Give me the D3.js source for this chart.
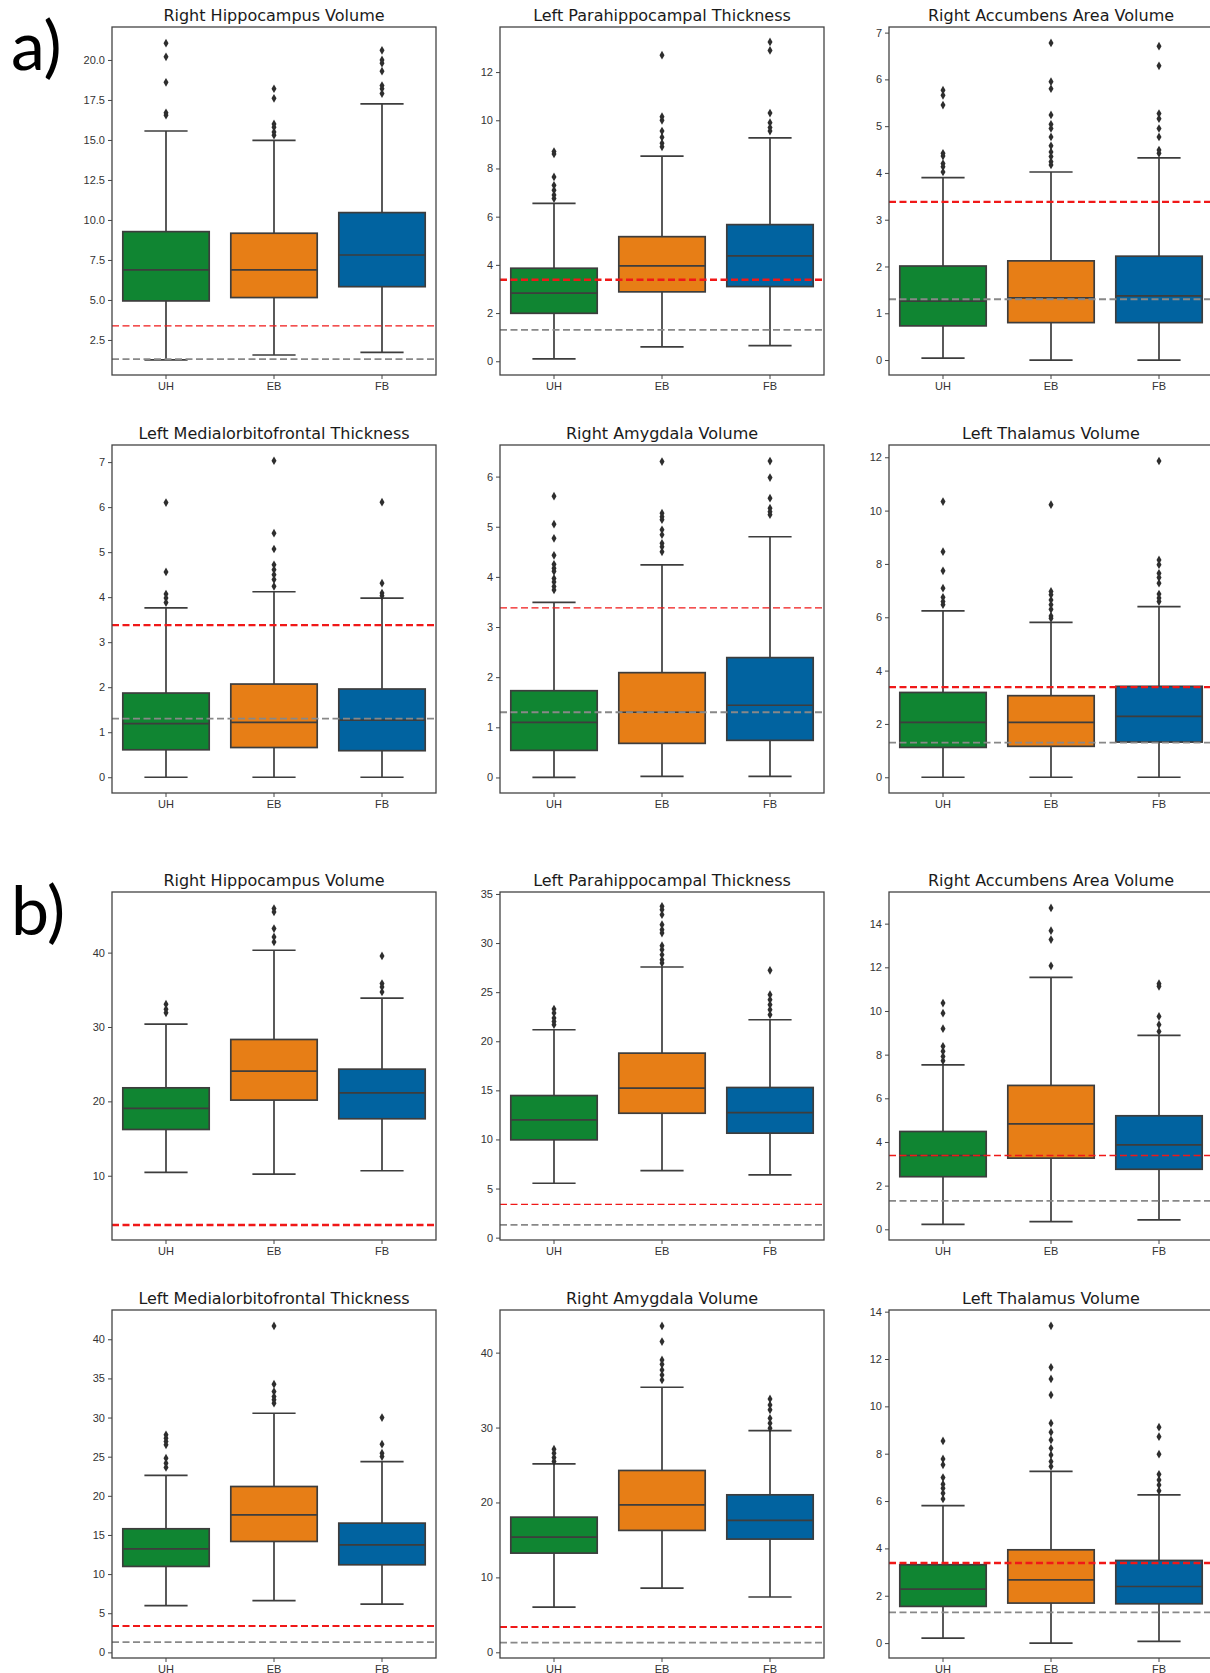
<!DOCTYPE html>
<html>
<head>
<meta charset="utf-8">
<script src="https://cdn.jsdelivr.net/npm/d3@7"></script>
<style>
  body { margin: 0; background: #fff; }
  svg { display: block; }
</style>
</head>
<body>
<div id="chart"></div>
<script>
const groups = ["UH", "EB", "FB"];
const titles = [
  "Right Hippocampus Volume",
  "Left Parahippocampal Thickness",
  "Right Accumbens Area Volume",
  "Left Medialorbitofrontal Thickness",
  "Right Amygdala Volume",
  "Left Thalamus Volume"
];
const sectionLabels = ["a)", "b)"];
const redLineValue = 3.38;
const grayLineValue = 1.3;

// box stats per group: [lower whisker, q1, median, q3, upper whisker]
// --- section a ---
const aHippoBoxes = [[1.25, 4.94, 6.88, 9.27, 15.56], [1.56, 5.15, 6.88, 9.17, 14.98], [1.73, 5.83, 7.81, 10.46, 17.25]];
const aHippoOut = [[21.05, 20.2, 18.6, 16.7, 16.55], [18.2, 17.6, 16.0, 15.8, 15.5, 15.3], [20.6, 20.0, 19.8, 19.3, 18.4, 18.2, 17.9]];
const aParaBoxes = [[0.1, 1.99, 2.83, 3.86, 6.55], [0.6, 2.88, 3.96, 5.17, 8.51], [0.65, 3.1, 4.37, 5.67, 9.27]];
const aParaOut = [[8.7, 8.6, 7.65, 7.3, 7.1, 6.9, 6.75], [12.7, 10.15, 10.0, 9.55, 9.3, 9.05, 8.9], [13.25, 12.9, 10.3, 9.9, 9.7, 9.55]];
const aAccBoxes = [[0.04, 0.73, 1.26, 2.01, 3.9], [0, 0.8, 1.33, 2.12, 4.02], [0, 0.8, 1.37, 2.22, 4.32]];
const aAccOut = [[5.77, 5.66, 5.45, 4.42, 4.36, 4.2, 4.13, 4.02], [6.78, 5.95, 5.8, 5.24, 5.04, 4.95, 4.77, 4.58, 4.45, 4.35, 4.24, 4.17], [6.71, 6.29, 5.27, 5.16, 4.95, 4.77, 4.49, 4.42]];
const aMofBoxes = [[0, 0.61, 1.19, 1.87, 3.76], [0, 0.66, 1.22, 2.07, 4.12], [0, 0.59, 1.27, 1.96, 3.98]];
const aMofOut = [[6.1, 4.56, 4.07, 3.98, 3.88], [7.03, 5.42, 5.07, 4.72, 4.61, 4.5, 4.39, 4.24], [6.11, 4.31, 4.09, 4.03]];
const aAmyBoxes = [[0, 0.54, 1.1, 1.73, 3.49], [0.02, 0.68, 1.3, 2.09, 4.24], [0.02, 0.74, 1.44, 2.39, 4.8]];
const aAmyOut = [[5.61, 5.05, 4.77, 4.43, 4.25, 4.17, 4.11, 3.97, 3.9, 3.81, 3.74], [6.3, 5.27, 5.2, 5.14, 4.94, 4.84, 4.67, 4.6, 4.5], [6.31, 5.98, 5.57, 5.37, 5.3, 5.24]];
const aThalBoxes = [[0, 1.12, 2.06, 3.18, 6.24], [0, 1.16, 2.06, 3.06, 5.81], [0, 1.32, 2.28, 3.41, 6.4]];
const aThalOut = [[10.34, 8.46, 7.74, 7.09, 6.75, 6.59, 6.47], [10.22, 6.97, 6.84, 6.65, 6.47, 6.3, 6.05, 5.96], [11.86, 8.15, 7.97, 7.65, 7.49, 7.28, 6.87, 6.72, 6.59]];

// --- section b ---
const bHippoBoxes = [[10.45, 16.22, 19.05, 21.82, 30.38], [10.22, 20.17, 24.06, 28.32, 40.32], [10.67, 17.66, 21.15, 24.33, 33.87]];
const bHippoOut = [[33.06, 32.39, 31.9], [45.92, 45.47, 43.23, 42.11, 41.44], [39.56, 35.84, 35.39, 34.72]];
const bParaBoxes = [[5.54, 9.96, 12.0, 14.47, 21.17], [6.83, 12.67, 15.22, 18.79, 27.56], [6.39, 10.64, 12.74, 15.29, 22.19]];
const bParaOut = [[23.28, 22.87, 22.36, 22.02, 21.68], [33.74, 33.4, 32.89, 31.87, 31.36, 31.02, 29.73, 29.32, 28.81, 28.3, 27.96], [27.22, 24.74, 24.23, 23.72, 23.21, 22.7]];
const bAccBoxes = [[0.23, 2.41, 3.38, 4.48, 7.53], [0.35, 3.26, 4.83, 6.59, 11.54], [0.43, 2.75, 3.87, 5.2, 8.88]];
const bAccOut = [[10.36, 9.9, 9.19, 8.38, 8.15, 7.92, 7.72], [14.72, 13.68, 13.27, 12.07], [11.25, 11.13, 9.75, 9.37, 9.06]];
const bMofBoxes = [[5.96, 10.98, 13.23, 15.79, 22.6], [6.6, 14.17, 17.57, 21.19, 30.55], [6.17, 11.19, 13.74, 16.51, 24.38]];
const bMofOut = [[27.79, 27.36, 26.94, 26.51, 24.81, 24.17, 23.62], [41.7, 34.26, 33.32, 32.68, 32.26, 31.83], [30.0, 26.6, 25.45, 25.02]];
const bAmyBoxes = [[6.04, 13.24, 15.38, 18.04, 25.16], [8.58, 16.27, 19.69, 24.27, 35.38], [7.38, 15.11, 17.6, 21.02, 29.6]];
const bAmyOut = [[27.11, 26.58, 26.0, 25.47], [43.56, 41.47, 39.02, 38.44, 37.69, 37.02, 36.36], [33.82, 33.02, 32.36, 31.24, 30.58, 29.91]];
const bThalBoxes = [[0.21, 1.55, 2.28, 3.31, 5.81], [0, 1.69, 2.67, 3.94, 7.25], [0.07, 1.66, 2.39, 3.49, 6.26]];
const bThalOut = [[8.54, 7.78, 7.53, 6.99, 6.71, 6.54, 6.33, 6.09], [13.4, 11.65, 11.16, 10.48, 9.29, 8.91, 8.58, 8.23, 7.95, 7.67, 7.46], [9.12, 8.72, 7.98, 7.13, 6.89, 6.68, 6.43]];

// y-axis ranges and tick steps
const yDomainsA = [[0.31, 22.06], [-0.57, 13.87], [-0.32, 7.12], [-0.35, 7.38], [-0.31, 6.63], [-0.59, 12.46]];
const yDomainsB = [[1.36, 48.15], [-0.24, 35.2], [-0.49, 15.45], [-0.72, 43.74], [-0.76, 45.69], [-0.63, 14.07]];
const yTickStepsA = [2.5, 2, 1, 1, 1, 2];
const yTickStepsB = [10, 5, 2, 5, 10, 2];

// --- layout / style ---
const W = 1210, H = 1673;
const colX = [112, 500, 889];
const rowY = [27, 445, 892, 1310];
const panelW = 324, panelH = 348;
const colors = ["#108532", "#e77e16", "#0163a0"];
const lineColor = "#3d3d3d";
const redWidths = [1.3, 2.4, 2.2, 2.4, 1.3, 2.1, 2.4, 1.3, 1.3, 2.0, 2.0, 2.4];

const boxesA = [aHippoBoxes, aParaBoxes, aAccBoxes, aMofBoxes, aAmyBoxes, aThalBoxes];
const outA = [aHippoOut, aParaOut, aAccOut, aMofOut, aAmyOut, aThalOut];
const boxesB = [bHippoBoxes, bParaBoxes, bAccBoxes, bMofBoxes, bAmyBoxes, bThalBoxes];
const outB = [bHippoOut, bParaOut, bAccOut, bMofOut, bAmyOut, bThalOut];

const panels = [];
[[boxesA, outA, yDomainsA, yTickStepsA], [boxesB, outB, yDomainsB, yTickStepsB]].forEach(([bx, ot, dom, st], s) => {
  for (let i = 0; i < 6; i++) {
    panels.push({
      title: titles[i], boxes: bx[i], fliers: ot[i], domain: dom[i], step: st[i],
      col: i % 3, row: s * 2 + Math.floor(i / 3)
    });
  }
});

const svg = d3.select("#chart").append("svg")
  .attr("width", W).attr("height", H)
  .style("font-family", "'DejaVu Sans', sans-serif");

svg.append("rect").attr("width", W).attr("height", H).attr("fill", "#fff");

// section labels
sectionLabels.forEach((lab, s) => {
  svg.append("text")
    .attr("x", 11)
    .attr("y", rowY[s * 2] + 43)
    .style("font-family", "Lato, 'Open Sans', sans-serif")
    .style("font-size", "68px")
    .attr("fill", "#000")
    .text(lab);
});

panels.forEach((p, idx) => {
  const g = svg.append("g")
    .attr("transform", `translate(${colX[p.col]},${rowY[p.row]})`);

  const x = d3.scaleBand().domain(groups).range([0, panelW]).paddingInner(0).paddingOuter(0);
  const y = d3.scaleLinear().domain(p.domain).range([panelH, 0]);

  const ticks = d3.range(Math.ceil(p.domain[0] / p.step) * p.step, p.domain[1] + 1e-9, p.step);
  const fmt = p.step % 1 !== 0 ? d3.format(".1f") : d3.format("d");

  // y axis
  const yAxis = g.append("g")
    .call(d3.axisLeft(y).tickValues(ticks).tickFormat(fmt).tickSize(4).tickPadding(3));
  yAxis.select(".domain").remove();
  yAxis.selectAll(".tick line").attr("stroke", "#444").attr("stroke-width", 1);
  yAxis.selectAll(".tick text").attr("fill", "#333").style("font-size", "11px");

  // x axis
  const xAxis = g.append("g")
    .attr("transform", `translate(0,${panelH})`)
    .call(d3.axisBottom(x).tickSize(4).tickPadding(3));
  xAxis.select(".domain").remove();
  xAxis.selectAll(".tick line").attr("stroke", "#444").attr("stroke-width", 1);
  xAxis.selectAll(".tick text").attr("fill", "#333").style("font-size", "11px");

  const bw = x.bandwidth() * 0.8;
  const cw = bw * 0.5;

  const grp = g.selectAll("g.box").data(groups).enter().append("g").attr("class", "box");
  grp.each(function (name, k) {
    const [lo, q1, md, q3, hi] = p.boxes[k];
    const cx = x(name) + x.bandwidth() / 2;
    const bg = d3.select(this);
    // whiskers and caps
    bg.append("line").attr("x1", cx).attr("x2", cx).attr("y1", y(lo)).attr("y2", y(q1));
    bg.append("line").attr("x1", cx).attr("x2", cx).attr("y1", y(q3)).attr("y2", y(hi));
    bg.append("line").attr("x1", cx - cw / 2).attr("x2", cx + cw / 2).attr("y1", y(lo)).attr("y2", y(lo));
    bg.append("line").attr("x1", cx - cw / 2).attr("x2", cx + cw / 2).attr("y1", y(hi)).attr("y2", y(hi));
    bg.selectAll("line").attr("stroke", lineColor).attr("stroke-width", 1.7);
    // box
    bg.append("rect")
      .attr("x", cx - bw / 2).attr("width", bw)
      .attr("y", y(q3)).attr("height", y(q1) - y(q3))
      .attr("fill", colors[k]).attr("stroke", lineColor).attr("stroke-width", 1.7);
    bg.append("line")
      .attr("x1", cx - bw / 2).attr("x2", cx + bw / 2)
      .attr("y1", y(md)).attr("y2", y(md))
      .attr("stroke", lineColor).attr("stroke-width", 1.7);
    // fliers
    bg.selectAll("path.flier").data(p.fliers[k]).enter().append("path")
      .attr("class", "flier")
      .attr("d", d3.symbol(d3.symbolDiamond, 22))
      .attr("transform", d => `translate(${cx},${y(d)})`)
      .attr("fill", "#2e2e2e");
  });

  // reference lines
  g.append("line")
    .attr("x1", 0).attr("x2", panelW)
    .attr("y1", y(redLineValue)).attr("y2", y(redLineValue))
    .attr("stroke", "#f01818").attr("stroke-width", redWidths[idx])
    .attr("stroke-dasharray", "7,3.5");
  if (grayLineValue > p.domain[0]) {
    g.append("line")
      .attr("x1", 0).attr("x2", panelW)
      .attr("y1", y(grayLineValue)).attr("y2", y(grayLineValue))
      .attr("stroke", "#888").attr("stroke-width", 1.8)
      .attr("stroke-dasharray", "7,3.5");
  }

  // frame
  g.append("rect")
    .attr("width", panelW).attr("height", panelH)
    .attr("fill", "none").attr("stroke", "#444").attr("stroke-width", 1.3);

  // title
  g.append("text")
    .attr("x", panelW / 2).attr("y", -6)
    .attr("text-anchor", "middle")
    .attr("fill", "#1a1a1a")
    .style("font-size", "16px")
    .text(p.title);
});
</script>
</body>
</html>
